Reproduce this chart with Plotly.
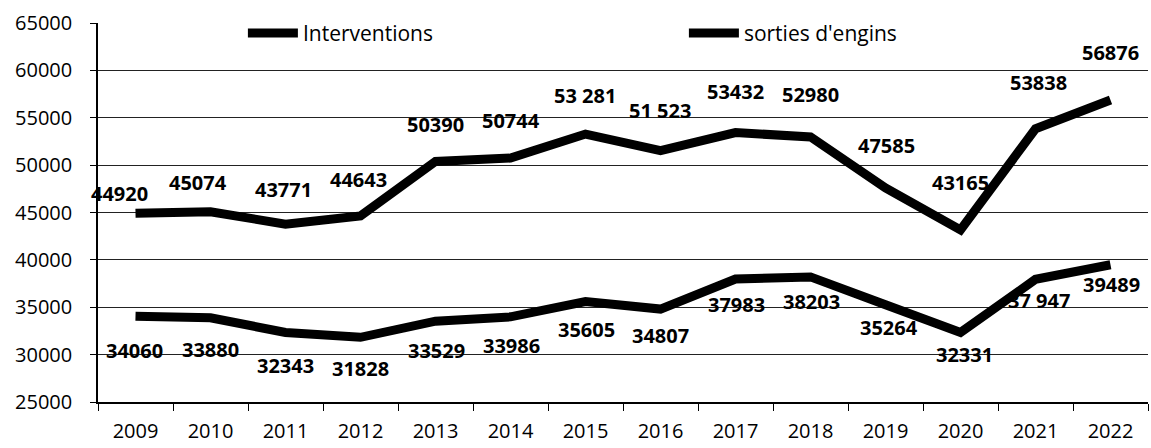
import plotly.graph_objects as go

years = ["2009", "2010", "2011", "2012", "2013", "2014", "2015",
         "2016", "2017", "2018", "2019", "2020", "2021", "2022"]

interventions = [44920, 45074, 43771, 44643, 50390, 50744, 53281,
                 51523, 53432, 52980, 47585, 43165, 53838, 56876]
interventions_text = ["44920", "45074", "43771", "44643", "50390", "50744", "53 281",
                      "51 523", "53432", "52980", "47585", "43165", "53838", "56876"]

sorties = [34060, 33880, 32343, 31828, 33529, 33986, 35605,
           34807, 37983, 38203, 35264, 32331, 37947, 39489]
sorties_text = ["34060", "33880", "32343", "31828", "33529", "33986", "35605",
                "34807", "37983", "38203", "35264", "32331", "37 947", "39489"]

# pixel offsets of the value labels from their points
int_dx = [-16, -13, -2, -2, 0, 0, -1, -1, 0, 0, 1, 0, 3, 0]
int_dy = [20, 29, 35, 36, 37, 38, 39, 40, 41, 42, 43, 47, 46, 47]
sor_dx = [-1, 0, 0, 0, 1, 1, 1, 0, 1, 1, 3, 4, 3, 1]
sor_dy = [-34, -32, -33, -31, -29, -29, -28, -26, -26, -25, -23, -22, -21, -20]

FONT = "Open Sans"

fig = go.Figure()
fig.add_trace(go.Scatter(x=years, y=interventions, mode="lines", name="Interventions",
                         line=dict(color="black", width=9)))
fig.add_trace(go.Scatter(x=years, y=sorties, mode="lines", name="sorties d'engins",
                         line=dict(color="black", width=9)))

label_font = dict(family=FONT, size=20, color="black", weight="bold")
annotations = []
for i, (v, t, dx, dy) in enumerate(zip(interventions, interventions_text, int_dx, int_dy)):
    annotations.append(dict(x=i, y=v, xref="x", yref="y", text=t, showarrow=False,
                            xshift=dx, yshift=dy, font=label_font))
for i, (v, t, dx, dy) in enumerate(zip(sorties, sorties_text, sor_dx, sor_dy)):
    annotations.append(dict(x=i, y=v, xref="x", yref="y", text=t, showarrow=False,
                            xshift=dx, yshift=dy, font=label_font))

fig.update_layout(
    width=1151, height=448,
    margin=dict(l=98, r=3, t=23, b=46),
    paper_bgcolor="white", plot_bgcolor="white",
    font=dict(family=FONT, size=20, color="black"),
    showlegend=True,
    legend=dict(orientation="h", x=0.138, y=1.027, xanchor="left", yanchor="top",
                bgcolor="rgba(0,0,0,0)", entrywidth=376, entrywidthmode="pixels",
                font=dict(family=FONT, size=21, color="black"),
                itemwidth=50),
    annotations=annotations,
    xaxis=dict(type="category", showgrid=False, showline=True, linecolor="black",
               linewidth=1.5, ticks="outside", tickson="boundaries", ticklen=7,
               tickcolor="black", tickfont=dict(family=FONT, size=20),
               ticklabelstandoff=10, range=[-0.5, 13.5]),
    yaxis=dict(range=[25000, 65000], dtick=5000, showgrid=True, gridcolor="#222",
               gridwidth=1, showline=True, linecolor="black", linewidth=1.5,
               ticks="outside", ticklen=6, tickcolor="black", zeroline=False,
               ticklabelstandoff=14, tickfont=dict(family=FONT, size=20),
               tickformat="d"),
)

fig.write_html("out.html")
